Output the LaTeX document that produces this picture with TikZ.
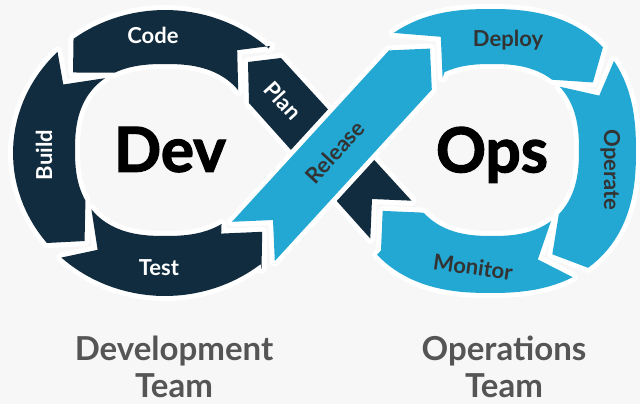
\documentclass[tikz,border=0pt]{standalone}
\usepackage{fontspec}
\setmainfont{Lato}
\usetikzlibrary{calc}
\definecolor{bg}{RGB}{247,247,247}
\definecolor{navy}{RGB}{17,44,62}
\definecolor{sky}{RGB}{35,168,212}
\definecolor{ink}{RGB}{51,51,51}
\definecolor{teamgray}{RGB}{85,85,85}
\pgfmathdeclarefunction{se}{2}{\pgfmathparse{#1*pow(abs(#1)+0.00002,#2)}}
\pgfmathdeclarefunction{lox}{1}{\pgfmathparse{165+152*cos(#1)}}
\pgfmathdeclarefunction{loy}{1}{\pgfmathparse{153+143*sin(#1)}}
\pgfmathdeclarefunction{lix}{1}{\pgfmathparse{165+90*se(cos(#1),-0.2)}}
\pgfmathdeclarefunction{liy}{1}{\pgfmathparse{150+86*se(sin(#1),-0.2)}}
\pgfmathdeclarefunction{lmx}{1}{\pgfmathparse{(lox(#1)+lix(#1))/2}}
\pgfmathdeclarefunction{lmy}{1}{\pgfmathparse{(loy(#1)+liy(#1))/2}}
\pgfmathdeclarefunction{rox}{1}{\pgfmathparse{490+146*se(cos(#1),-0.18)}}
\pgfmathdeclarefunction{roy}{1}{\pgfmathparse{151+142*se(sin(#1),-0.18)}}
\pgfmathdeclarefunction{rix}{1}{\pgfmathparse{492+87*se(cos(#1),-0.2)}}
\pgfmathdeclarefunction{riy}{1}{\pgfmathparse{150+86*se(sin(#1),-0.2)}}
\pgfmathdeclarefunction{rmx}{1}{\pgfmathparse{(rox(#1)+rix(#1))/2}}
\pgfmathdeclarefunction{rmy}{1}{\pgfmathparse{(roy(#1)+riy(#1))/2}}
\tikzset{
  piece/.style={line join=round, preaction={draw=white, line width=10pt, line join=round}},
  lab/.style={font=\bfseries\fontsize{22}{22}\selectfont, inner sep=0pt, text height=16pt, text depth=0pt},
  big/.style={font=\bfseries\addfontfeatures{FakeBold=2}\fontsize{62}{62}\selectfont, inner sep=0pt, text height=44.5pt, text depth=0pt, text=black},
  team/.style={font=\bfseries\fontsize{33}{37}\selectfont, inner sep=0pt, text=teamgray, anchor=base},
  smp/.style={samples=30, variable=\t}
}
\begin{document}
\begin{tikzpicture}[x=1pt, y=-1pt]
\useasboundingbox (0,0) rectangle (640,404);
\fill[bg] (0,0) rectangle (640,404);
% left ring: Code, Build, Test
\path[piece, fill=navy] (270,46) -- plot[smp, domain=-47:-127] ({lox(\t)},{loy(\t)})
  -- ({lmx(-138)},{lmy(-138)}) -- plot[smp, domain=-119:-40] ({lix(\t)},{liy(\t)})
  -- (238.2,91.2) -- (237.2,50.2) -- cycle;
\path[piece, fill=navy] plot[smp, domain=-135:-219] ({lox(\t)},{loy(\t)})
  -- ({lmx(-230)},{lmy(-230)}) -- plot[smp, domain=-211:-127] ({lix(\t)},{liy(\t)})
  -- ({lmx(-146)},{lmy(-146)}) -- cycle;
\path[piece, fill=navy] plot[smp, domain=-227:-309] ({lox(\t)},{loy(\t)})
  -- (261.5,269) -- (262.2,231.8) -- (221.2,233.6)
  -- plot[smp, domain=-304:-219] ({lix(\t)},{liy(\t)})
  -- ({lmx(-238)},{lmy(-238)}) -- cycle;
% right ring: Deploy, Operate, Monitor
\path[piece, fill=sky] plot[smp, domain=-127:-43] ({rox(\t)},{roy(\t)})
  -- ({rmx(-32)},{rmy(-32)}) -- plot[smp, domain=-51:-118] ({rix(\t)},{riy(\t)})
  -- (442.6,77.8) -- (440.8,36.8) -- cycle;
\path[piece, fill=sky] plot[smp, domain=-35:52] ({rox(\t)},{roy(\t)})
  -- ({rmx(63)},{rmy(63)}) -- plot[smp, domain=44:-43] ({rix(\t)},{riy(\t)})
  -- ({rmx(-24)},{rmy(-24)}) -- cycle;
\path[piece, fill=sky] plot[smp, domain=60:137] ({rox(\t)},{roy(\t)})
  -- (381,250.4) -- (382.7,210.9) -- (422.2,212.6)
  -- plot[smp, domain=137:52] ({rix(\t)},{riy(\t)})
  -- ({rmx(71)},{rmy(71)}) -- cycle;
% crossing bands
\path[piece, fill=navy] (248,62) -- (281,58) -- (411.5,200.7) -- (372,199)
  -- (370.3,238.5) -- (249,103) -- cycle;
\path[piece, fill=sky] (232,221.8) -- (389,50.4) -- (430,48.6) -- (431.8,89.6)
  -- (274.8,261) -- (273,220) -- cycle;
% labels
\node[lab, text=white] (code) at (153,36) {Code};
\node[lab, text=white, rotate=90] (build) at (44,155) {Build};
\node[lab, text=white] (test) at (159,267.5) {Test};
\node[lab, text=white, rotate=-47.5] (plan) at (283,101) {Plan};
\node[lab, text=ink, rotate=47.5] (release) at (335,152) {Release};
\node[lab, text=ink] (deploy) at (508,38.5) {Deploy};
\node[lab, text=ink, rotate=-90] (operate) at (612,170) {Operate};
\node[lab, text=ink, rotate=-8] (monitor) at (473,267) {Monitor};
\node[big] (dev) at (170,149.5) {Dev};
\node[big] (ops) at (492,150) {Ops};
\node[team] (devA) at (174,360) {Development};
\node[team] (devB) at (174,397) {Team};
\node[team] (opsA) at (504,360) {Operations};
\node[team] (opsB) at (504,397) {Team};
\end{tikzpicture}
\end{document}
